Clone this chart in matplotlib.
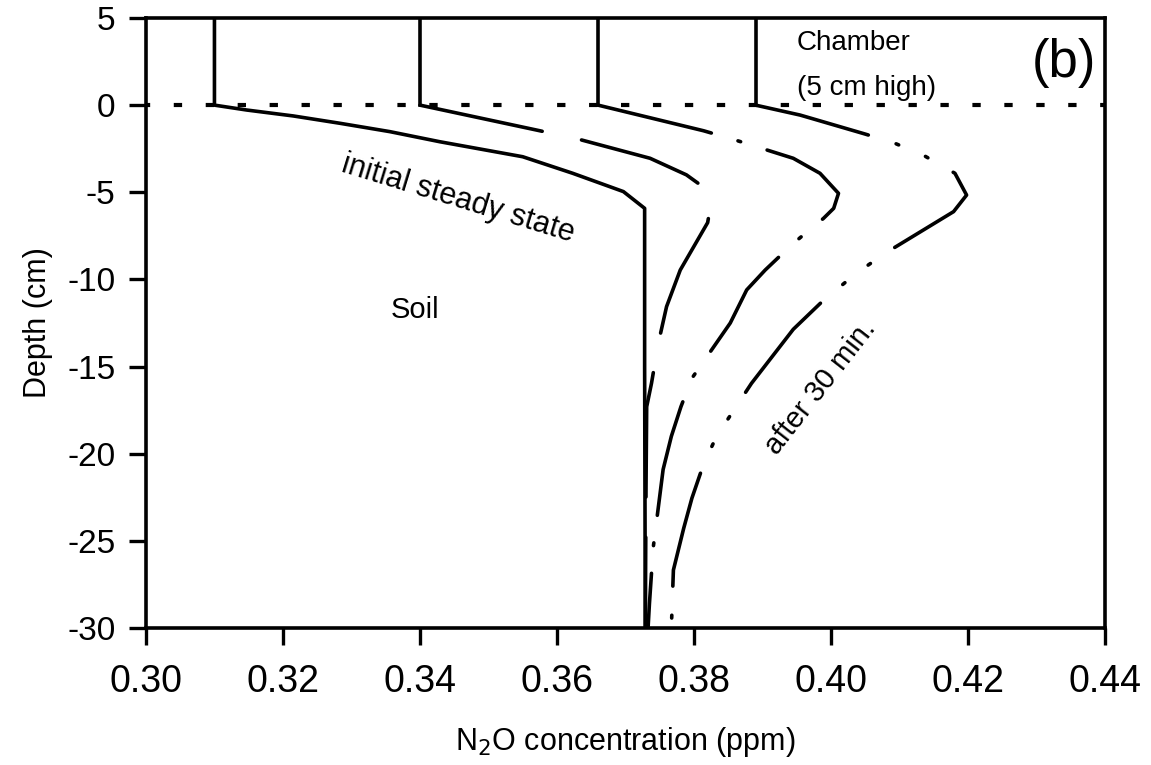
import matplotlib
matplotlib.use("Agg")
import matplotlib.pyplot as plt

plt.rcParams['font.family'] = ['Liberation Sans', 'DejaVu Sans']
plt.rcParams['lines.scale_dashes'] = False
plt.rcParams['axes.unicode_minus'] = False

chamber_conc = [0.310, 0.340, 0.366, 0.389]
chamber_top = 5
surface = 0

conc_init = [0.310, 0.310, 0.3147, 0.3215, 0.3283, 0.3356, 0.3429, 0.3550, 0.3623, 0.3697, 0.3728, 0.3728, 0.3729]
depth_init = [5, 0, -0.28, -0.62, -1.04, -1.52, -2.10, -2.96, -3.91, -4.96, -5.92, -15, -30]

conc_10 = [0.340, 0.3575, 0.3636, 0.3736, 0.3789, 0.3813, 0.3825, 0.3820, 0.3780, 0.3760, 0.3748,
           0.3738, 0.3731, 0.3730, 0.3729]
depth_10 = [0, -1.47, -2.0, -3.05, -4.0, -4.68, -5.6, -6.74, -9.46, -11.56, -13.66,
            -15.96, -17.3, -22, -30]

conc_20 = [0.366, 0.3814, 0.3857, 0.3899, 0.3945, 0.3984, 0.4011, 0.4004, 0.3989, 0.3945, 0.3904,
           0.3877, 0.3853, 0.3797, 0.3781, 0.3767, 0.3755, 0.3741, 0.3738, 0.3735, 0.3733]
depth_20 = [0, -1.47, -1.96, -2.48, -3.05, -3.91, -5.06, -5.92, -6.5, -7.93, -9.46,
            -10.6, -12.5, -15.67, -17.3, -19.0, -20.9, -25.24, -26.86, -28.6, -30]

conc_30 = [0.389, 0.3955, 0.4050, 0.4091, 0.4137, 0.4181, 0.4198, 0.4179, 0.4079, 0.4037, 0.3989,
           0.3945, 0.3884, 0.3833, 0.3814, 0.3797, 0.3785, 0.3770, 0.3767]
depth_30 = [0, -0.57, -1.66, -2.15, -2.92, -3.91, -5.16, -6.11, -8.50, -9.65, -11.2,
            -12.86, -15.96, -19.0, -20.6, -22.55, -24.28, -26.67, -30]

x_ticks = [0.30, 0.32, 0.34, 0.36, 0.38, 0.40, 0.42, 0.44]
y_ticks = [5, 0, -5, -10, -15, -20, -25, -30]

fig = plt.figure(figsize=(11.51, 7.65), dpi=100)
ax = fig.add_axes([0.1268, 0.179, 0.8332, 0.7975])

lw = 2.6
# chamber walls
for c in chamber_conc[1:]:
    ax.plot([c, c], [chamber_top, surface], color='k', lw=lw)

# soil surface
ax.plot([0.30, 0.44], [surface, surface], color='k', lw=3.0,
        linestyle=(3, (6, 17)), dash_capstyle='butt')

ax.plot(conc_init, depth_init, color='k', lw=lw, solid_joinstyle='round')
ax.plot(conc_10, depth_10, color='k', lw=lw, linestyle=(0, (90, 29)),
        dash_capstyle='round', dash_joinstyle='round')
ax.plot(conc_20, depth_20, color='k', lw=lw, linestyle=(0, (84, 20, 2, 20)),
        dash_capstyle='round', dash_joinstyle='round')
ax.plot(conc_30, depth_30, color='k', lw=lw, linestyle=(0, (84, 21, 2, 21, 2, 21)),
        dash_capstyle='round', dash_joinstyle='round')

ax.set_xlim(0.30, 0.44)
ax.set_ylim(-30, 5)
ax.set_xticks(x_ticks)
ax.set_xticklabels([f"{v:.2f}" for v in x_ticks])
ax.set_yticks(y_ticks)
for s in ax.spines.values():
    s.set_linewidth(2.6)
ax.tick_params(axis='both', direction='out', length=12, width=2.4)
ax.tick_params(axis='x', labelsize=27, pad=14)
ax.tick_params(axis='y', labelsize=24, pad=10)

ax.set_xlabel("N$_2$O concentration (ppm)", fontsize=22, labelpad=18)
ax.set_ylabel("Depth (cm)", fontsize=22, labelpad=10)

ax.text(0.395, 3.57, "Chamber", fontsize=20, ha='left', va='center')
ax.text(0.395, 0.98, "(5 cm high)", fontsize=20, ha='left', va='center')
ax.text(0.434, 2.4, "(b)", fontsize=38, ha='center', va='center')
ax.text(0.3393, -11.75, "Soil", fontsize=21, ha='center', va='center')
ax.text(0.3455, -5.4, "initial steady state", fontsize=22, ha='center', va='center',
        rotation=-17, rotation_mode='anchor')
ax.text(0.3985, -16.2, "after 30 min.", fontsize=21, ha='center', va='center',
        rotation=52, rotation_mode='anchor')

fig.savefig("out.png", dpi=100)
